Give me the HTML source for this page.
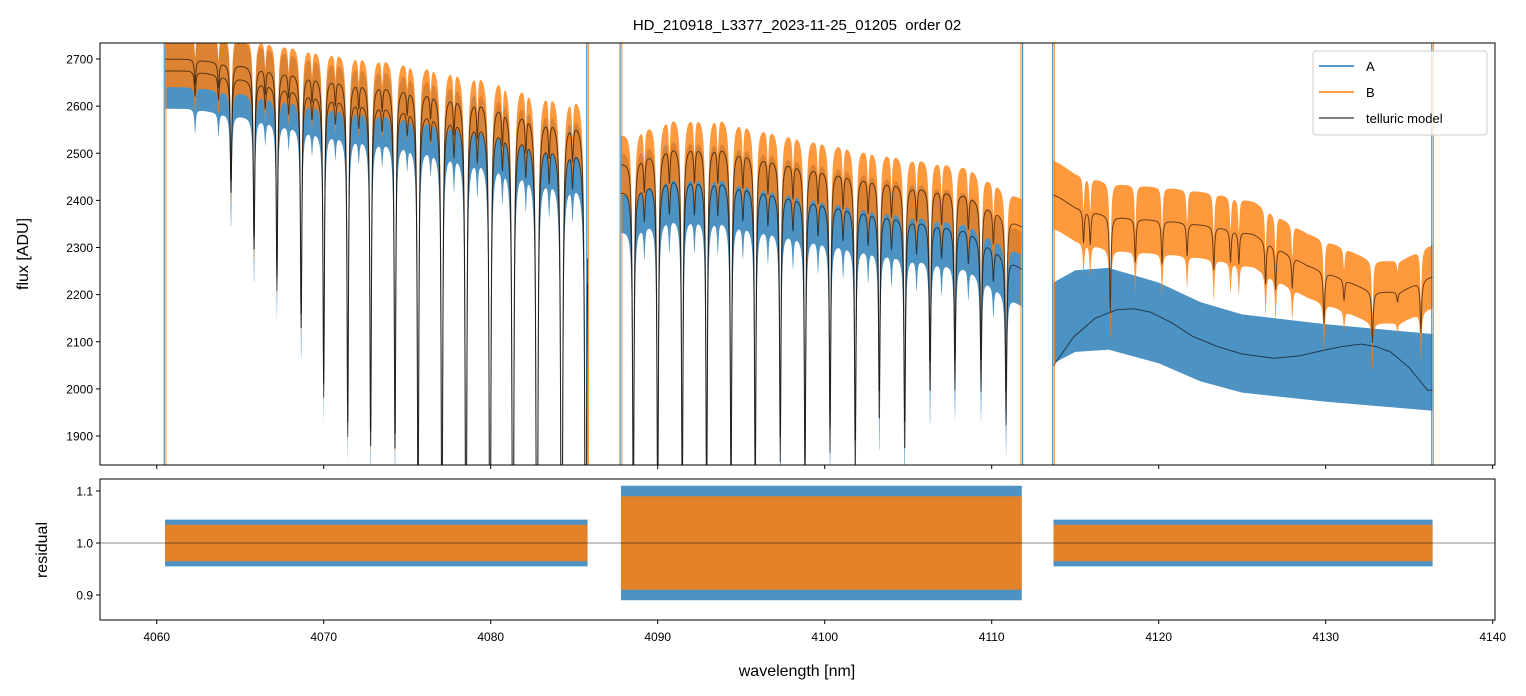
<!DOCTYPE html>
<html><head><meta charset="utf-8">
<style>
html,body{margin:0;padding:0;background:#fff;overflow:hidden;width:1526px;height:696px;}
svg{display:block;font-family:"Liberation Sans","DejaVu Sans",sans-serif;}
</style></head>
<body>
<svg id="chart" width="1526" height="696" viewBox="0 0 1526 696" xmlns="http://www.w3.org/2000/svg">
<defs>
<clipPath id="clipTop"><rect x="100" y="43" width="1395" height="422"/></clipPath>
<clipPath id="clipRes"><rect x="100" y="479" width="1395" height="141"/></clipPath>
</defs>
<rect x="0" y="0" width="1526" height="696" fill="#fff"/>
<text x="797" y="30" text-anchor="middle" font-size="15" fill="#000">HD_210918_L3377_2023-11-25_01205&#160; order 02</text>
<g id="topArea" clip-path="url(#clipTop)"></g>
<g id="resArea" clip-path="url(#clipRes)"></g>
<g id="axesG"></g>
<text transform="translate(28,254) rotate(-90)" text-anchor="middle" font-size="16">flux [ADU]</text>
<text transform="translate(47,550) rotate(-90)" text-anchor="middle" font-size="16">residual</text>
<text x="797" y="676" text-anchor="middle" font-size="16">wavelength [nm]</text>
<g id="legendG">
<rect x="1313" y="51" width="174" height="84" rx="3" fill="#fff" fill-opacity="0.8" stroke="#ccc"/>
<line x1="1319" y1="66" x2="1354" y2="66" stroke="#1f77b4" stroke-width="1.5"/>
<text x="1366" y="71" font-size="13">A</text>
<line x1="1319" y1="92" x2="1354" y2="92" stroke="#ff7f0e" stroke-width="1.5"/>
<text x="1366" y="97" font-size="13">B</text>
<line x1="1319" y1="118" x2="1354" y2="118" stroke="#555" stroke-width="1.5"/>
<text x="1366" y="123" font-size="13">telluric model</text>
</g>
</svg>
<script>
// ---- data ----
const xTicks=[4060,4070,4080,4090,4100,4110,4120,4130,4140];
const yTicks=[1900,2000,2100,2200,2300,2400,2500,2600,2700];
const rTicks=[0.9,1.0,1.1];
const segRanges=[[4060.5,4085.8],[4087.8,4111.8],[4113.7,4136.4]];
const lineWl1=[4064.45,4065.83,4067.2,4068.65,4070.0,4071.44,4072.81,4074.27,4075.65,4077.08,4078.52,4079.96,4081.33,4082.77,4084.25,4085.69];
const lineTau1=[0.10,0.15,0.18,0.22,0.28,0.32,0.34,0.34,0.42,0.48,0.55,0.6,0.65,0.7,0.7,0.7];
const lineWl2=[4088.54,4090.0,4091.47,4092.93,4094.39,4095.84,4097.34,4098.82,4100.32,4101.83,4103.27,4104.79,4106.31,4107.8,4109.36,4110.86];
const lineTau2=[0.35,0.35,0.35,0.35,0.33,0.32,0.27,0.30,0.25,0.27,0.21,0.24,0.17,0.16,0.15,0.17];
const weakWl=[4062.3,4063.7,4066.5,4067.9,4069.3,4070.7,4072.1,4073.5,4075.0,4076.4,4077.8,4079.2,4080.7,4082.1,4083.5,4084.9,4089.2,4090.7,4092.2,4093.6,4095.1,4096.6,4098.1,4099.6,4101.1,4102.6,4104.0,4105.5,4107.0,4108.6,4110.1];
const weakTau=[0.02,0.02,0.02,0.02,0.02,0.02,0.02,0.02,0.02,0.02,0.03,0.03,0.03,0.03,0.03,0.03,0.03,0.03,0.03,0.03,0.03,0.03,0.03,0.03,0.03,0.03,0.03,0.03,0.03,0.03,0.03];
const lineWl3=[4115.5,4115.9,4117.1,4118.6,4120.2,4121.7,4123.3,4124.3,4124.8,4126.4,4127.0,4128.0,4129.9,4131.1,4132.8,4134.3,4135.7];
const lineTau3=[0.03,0.03,0.09,0.04,0.04,0.03,0.04,0.03,0.03,0.04,0.04,0.03,0.05,0.02,0.05,0.01,0.05];
const contWl1=[4060.5,4062,4066,4070,4075,4080,4083.1,4085.8];
const contB1=[2700,2700,2685,2665,2645,2620,2585,2570];
const contA1=[2675,2675,2655,2625,2600,2565,2530,2510];
const contWl2=[4087.8,4090.8,4093.7,4096.5,4101.9,4105,4108.5,4111.8];
const contB2=[2480,2520,2520,2495,2455,2435,2415,2345];
const contA2=[2420,2452,2448,2425,2385,2363,2340,2255];
const contWl3=[4113.7,4114.1,4115,4117.3,4120.9,4123.3,4125.7,4128.9,4130.9,4132.8,4134.5,4136.1,4136.4];
const contB3=[2412,2405,2385,2365,2355,2345,2328,2262,2235,2205,2206,2235,2238];
const modelAWl3=[4113.6,4114.9,4116.2,4117.5,4118.5,4119.5,4120.8,4122,4123.5,4125,4126.9,4128.4,4129.9,4131,4132.1,4133.0,4133.9,4135.0,4136.1];
const modelA3=[2044,2110,2150,2168,2170,2163,2140,2112,2090,2074,2065,2070,2082,2090,2095,2090,2078,2045,1997];
const dataAWl3=[4113.7,4115,4117,4120,4122.5,4125,4130,4136.4];
const dataA3=[2140,2165,2170,2140,2100,2075,2055,2035];
const bandA=[0.03,0.035,0.04];
const bandB=[0.022,0.025,0.03];
const resBandA=[0.045,0.11,0.045];
const resBandB=[0.035,0.09,0.035];
const edgeWl=[4060.45,4060.55,4085.75,4085.85,4087.75,4087.85,4111.75,4111.85,4113.65,4113.75,4136.35,4136.45];
const edgeSeries=["A","B","A","B","A","B","B","A","A","B","A","B"];

// ---- scales ----
const X=v=>156.7+(v-4060)*16.7;
const Y=v=>59+(2700-v)*0.47125;
const YR=v=>543-(v-1)*520;
const LW=0.05;
function interp(xs,ys,x){
  if(x<=xs[0])return ys[0];
  for(let i=1;i<xs.length;i++){if(x<=xs[i]){const t=(x-xs[i-1])/(xs[i]-xs[i-1]);return ys[i-1]+t*(ys[i]-ys[i-1]);}}
  return ys[ys.length-1];
}
function tauSum(x,wl,tt){let s=0;for(let i=0;i<wl.length;i++){const d=(x-wl[i])/LW;s+=tt[i]/(1+d*d);}return s;}
function trans(x,seg){
  if(seg===0)return Math.exp(-tauSum(x,lineWl1,lineTau1)-tauSum(x,weakWl,weakTau));
  if(seg===1)return Math.exp(-tauSum(x,lineWl2,lineTau2)-tauSum(x,weakWl,weakTau));
  return Math.exp(-tauSum(x,lineWl3,lineTau3));
}
function modelB(x,seg){const c=[contB1,contB2,contB3][seg],w=[contWl1,contWl2,contWl3][seg];return interp(w,c,x)*trans(x,seg);}
function modelA(x,seg){if(seg===2)return interp(modelAWl3,modelA3,x);const c=[contA1,contA2][seg],w=[contWl1,contWl2][seg];return interp(w,c,x)*trans(x,seg);}
function centerA(x,seg){if(seg===2)return interp(dataAWl3,dataA3,x);return modelA(x,seg);}

const NS='http://www.w3.org/2000/svg';
const topG=document.getElementById('topArea'),resG=document.getElementById('resArea'),axesG=document.getElementById('axesG');
function mk(tag,attrs,parent){const e=document.createElementNS(NS,tag);for(const k in attrs)e.setAttribute(k,attrs[k]);parent.appendChild(e);return e;}
const STEP=0.02;
function bandPath(seg,cf,h,yf){
  const a=segRanges[seg][0],b=segRanges[seg][1];const up=[],dn=[];
  for(let x=a;x<=b+1e-9;x+=STEP){const c=cf(x,seg);up.push(X(x).toFixed(2)+','+yf(c*(1+h)).toFixed(2));dn.push(X(x).toFixed(2)+','+yf(c*(1-h)).toFixed(2));}
  return 'M'+up.join('L')+'L'+dn.reverse().join('L')+'Z';
}
function linePath(seg,f,yf){const a=segRanges[seg][0],b=segRanges[seg][1];const p=[];for(let x=a;x<=b+1e-9;x+=STEP)p.push(X(x).toFixed(2)+','+yf(f(x,seg)).toFixed(2));return 'M'+p.join('L');}

for(let s=0;s<3;s++){
  const e=mk('path',{d:bandPath(s,centerA,bandA[s],Y),fill:'#1f77b4','fill-opacity':0.8},topG);
  
  
}
for(let s=0;s<3;s++){
  const e=mk('path',{d:bandPath(s,modelB,bandB[s],Y),fill:'#ff7f0e','fill-opacity':0.8},topG);
  
  
}
for(let i=0;i<edgeWl.length;i++){
  const e=mk('line',{x1:X(edgeWl[i]),x2:X(edgeWl[i]),y1:43,y2:465,stroke:edgeSeries[i]==='A'?'#1f77b4':'#ff7f0e','stroke-width':1.2,'stroke-opacity':0.8},topG);
  
  
}
for(let s=0;s<3;s++){
  const e1=mk('path',{d:linePath(s,modelB,Y),fill:'none',stroke:'#000','stroke-opacity':0.6,'stroke-width':1},topG);
  
  
  const e2=mk('path',{d:linePath(s,modelA,Y),fill:'none',stroke:'#000','stroke-opacity':0.6,'stroke-width':1},topG);
  
  
}
const one=()=>1;
for(let s=0;s<3;s++){
  const e=mk('path',{d:bandPath(s,one,resBandA[s],YR),fill:'#1f77b4','fill-opacity':0.8},resG);
  
  
}
for(let s=0;s<3;s++){
  const e=mk('path',{d:bandPath(s,one,resBandB[s],YR),fill:'#ff7f0e','fill-opacity':0.85},resG);
  
  
}
const refLine=mk('line',{x1:100,x2:1495,y1:YR(1),y2:YR(1),stroke:'#000','stroke-opacity':0.6,'stroke-width':0.8},resG);



const f1=mk('rect',{x:100,y:43,width:1395,height:422,fill:'none',stroke:'#000','stroke-width':1},axesG);


const f2=mk('rect',{x:100,y:479,width:1395,height:141,fill:'none',stroke:'#000','stroke-width':1},axesG);


xTicks.forEach(t=>{
  const x=X(t);
  const a=mk('line',{x1:x,x2:x,y1:465,y2:469,stroke:'#000'},axesG);
  
  
  const b=mk('line',{x1:x,x2:x,y1:620,y2:624,stroke:'#000'},axesG);
  
  
  const l=mk('text',{x:x,y:641,'text-anchor':'middle','font-size':12},axesG);
  l.textContent=t;
  
  
});
yTicks.forEach(t=>{
  const y=Y(t);
  const a=mk('line',{x1:96,x2:100,y1:y,y2:y,stroke:'#000'},axesG);
  
  
  const l=mk('text',{x:93,y:y+4.5,'text-anchor':'end','font-size':12},axesG);
  l.textContent=t;
  
  
});
rTicks.forEach(t=>{
  const y=YR(t);
  const a=mk('line',{x1:96,x2:100,y1:y,y2:y,stroke:'#000'},axesG);
  
  
  const l=mk('text',{x:93,y:y+4.5,'text-anchor':'end','font-size':12},axesG);
  l.textContent=t.toFixed(1);
  
  
});
</script>
</body></html>
